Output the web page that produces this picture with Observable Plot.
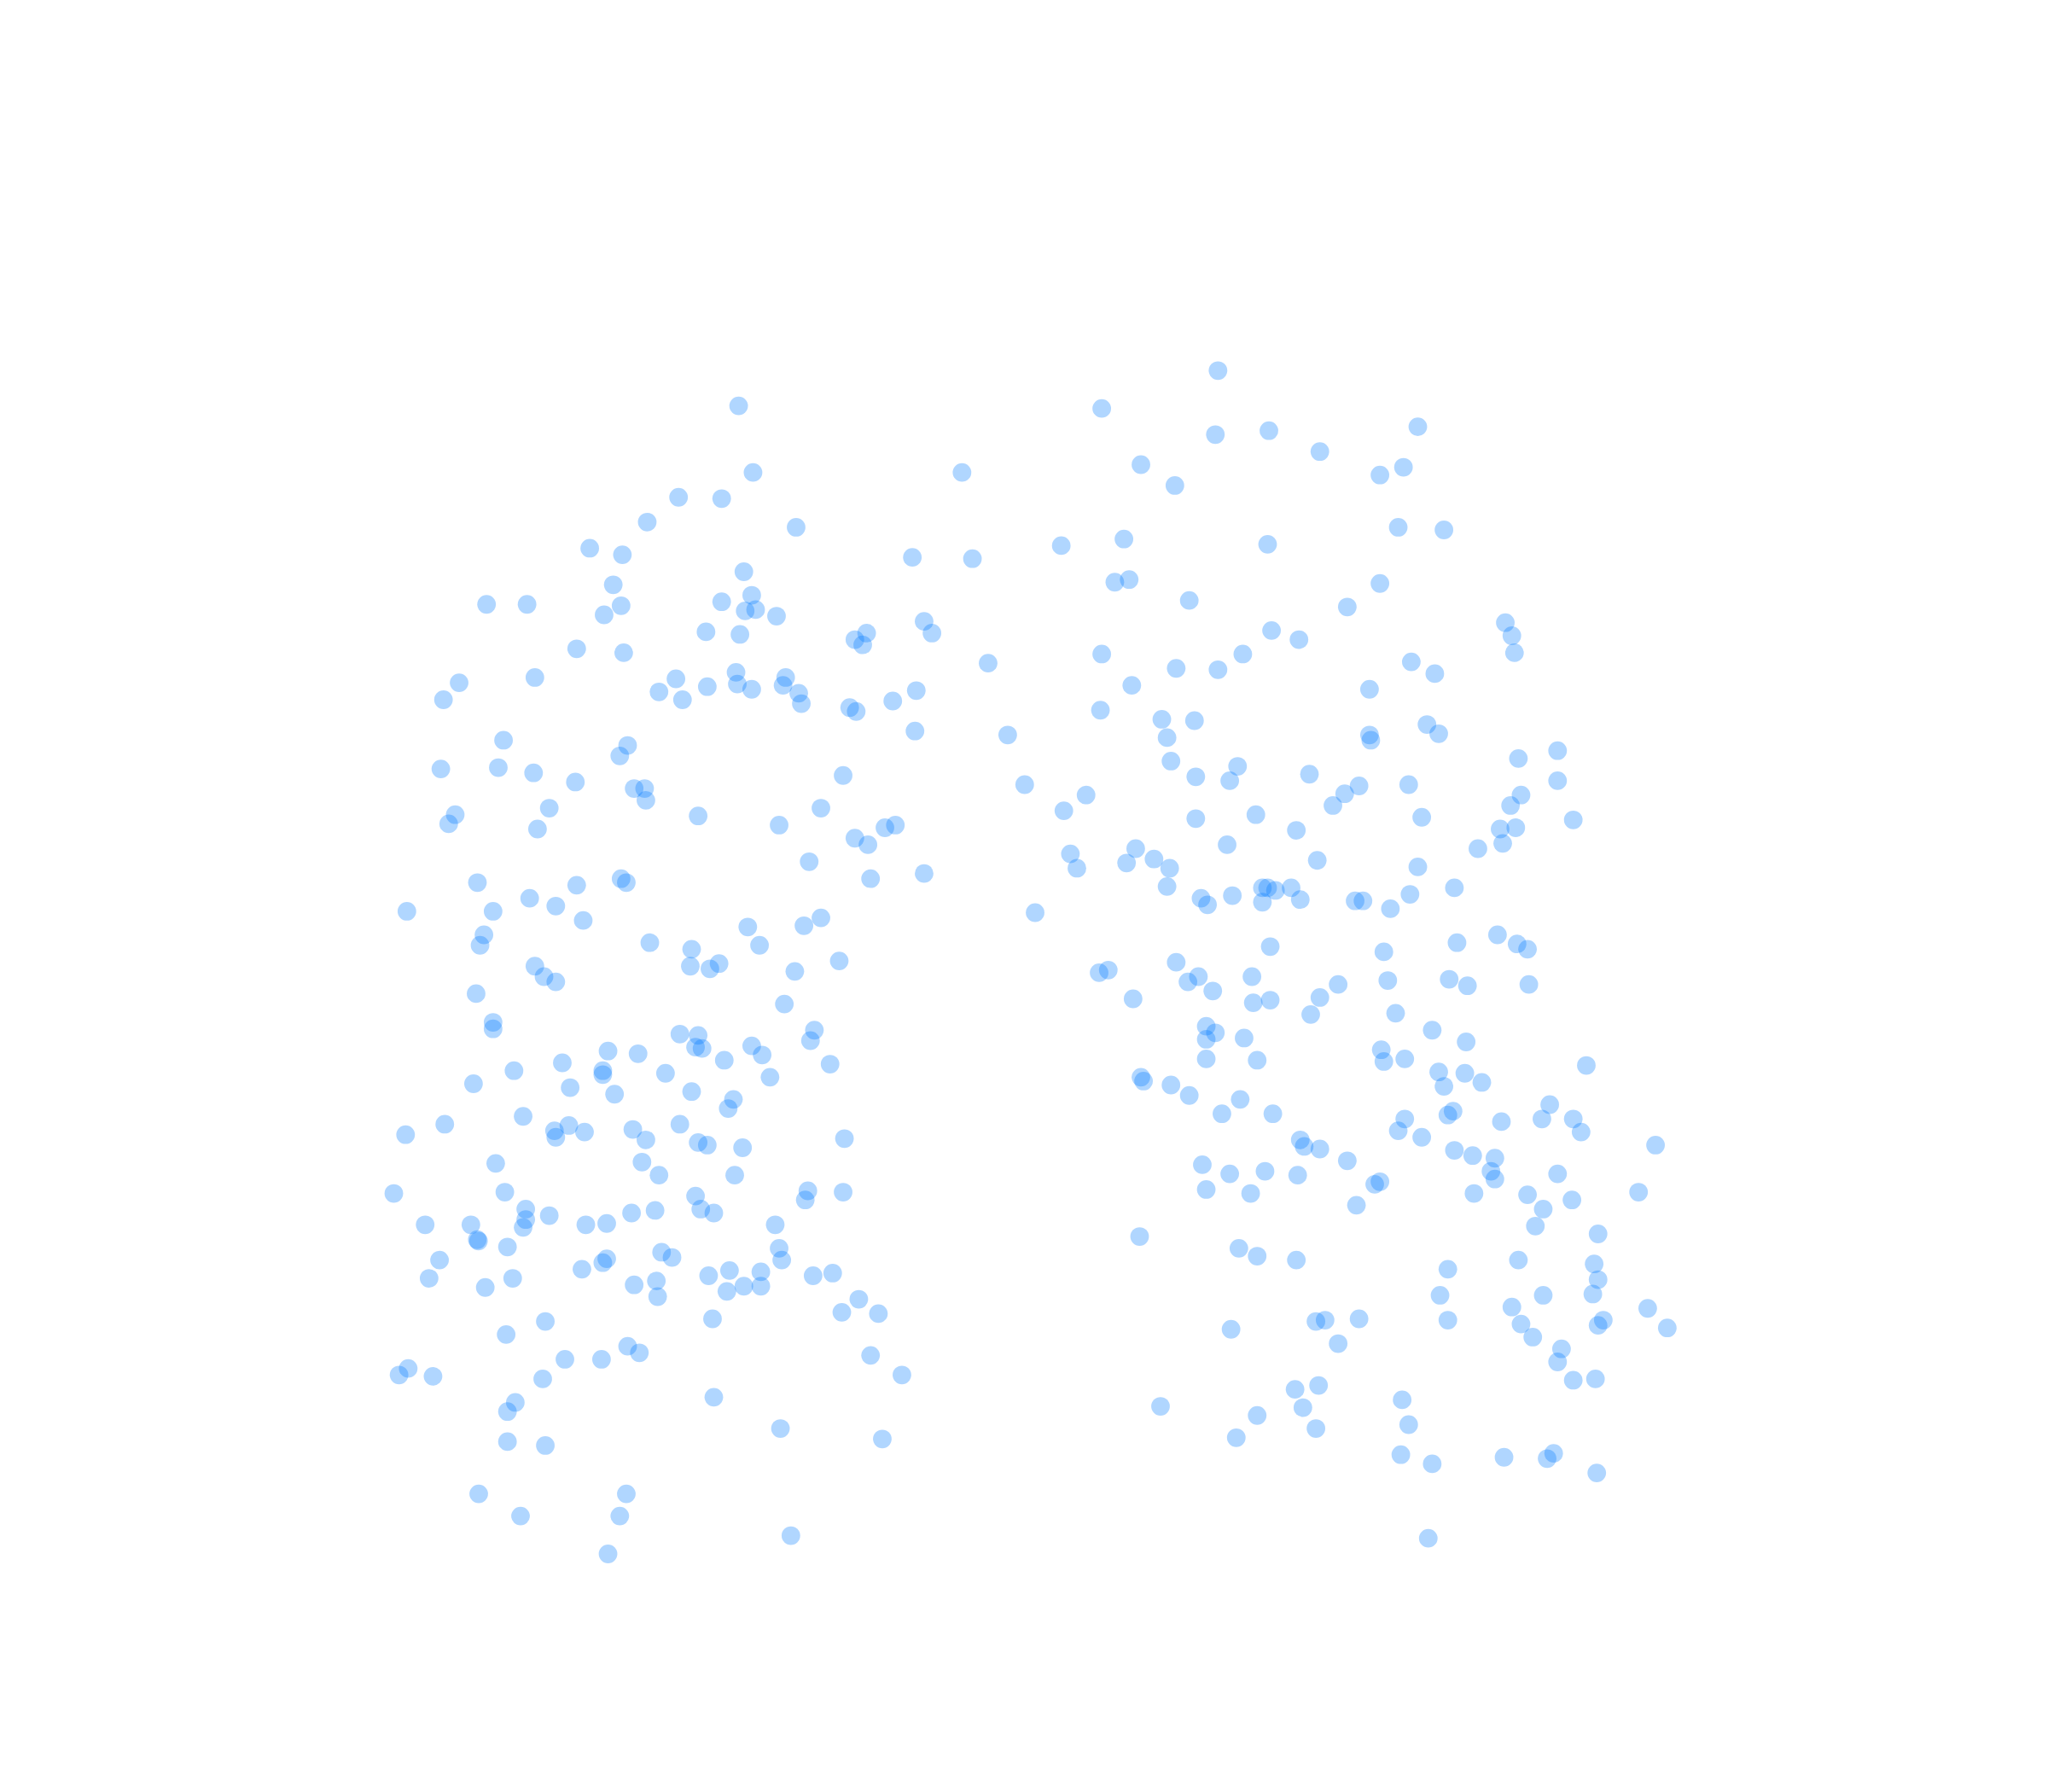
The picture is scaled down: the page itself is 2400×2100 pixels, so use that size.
<!DOCTYPE html>
<html>
<head>
<meta charset="utf-8">
<script src="https://cdn.jsdelivr.net/npm/d3@7"></script>
<script src="https://cdn.jsdelivr.net/npm/@observablehq/plot@0.6"></script>
<style>html,body{margin:0;padding:0;background:#fff}svg{display:block}</style>
</head>
<body>
<div id="chart"></div>
<script>
const band1 = [[565,311],[843,313],[932,284],[930,333],[971,330],[1010,346],[1085,327],[1074,358],[1056,364],[873,356],[899,372],[576,362],[736,362],[519,381],[552,382],[495,400],[609,404],[451,420],[476,425],[698,427],[744,428],[812,418],[860,413],[970,417],[1070,404],[1105,406],[569,438],[469,448],[853,446],[864,444],[1056,447],[552,461],[575,456],[570,468],[578,467],[594,472],[475,464],[462,471],[372,463],[403,463],[910,460],[1031,465],[1152,477],[1157,487],[1159,500],[540,484],[566,486],[441,497],[477,500],[654,490],[663,485],[660,494],[707,476],[713,485],[973,483],[994,490],[843,501],[951,501]];
const band2 = [[756,508],[900,512],[932,513],[1080,507],[1098,516],[409,519],[351,523],[339,536],[504,530],[517,520],[522,536],[541,526],[563,515],[564,524],[575,528],[599,525],[601,519],[611,531],[613,539],[650,542],[655,545],[683,537],[701,529],[700,560],[866,525],[842,544],[1048,528],[889,551],[914,552],[893,565],[771,563],[1048,563],[1049,567],[1092,555],[1101,562],[385,567],[480,571],[474,579],[337,589],[381,588],[408,592],[440,599],[485,604],[493,604],[494,613],[645,594],[896,583],[947,587],[915,595],[941,598],[1002,593],[1040,602],[1029,608],[1078,601],[1162,581],[1192,575],[1192,598],[784,601],[831,609],[814,621],[1020,617],[1164,609],[1156,617],[1204,628],[1088,626]];
const band3 = [[420,619],[348,624],[343,631],[411,635],[534,625],[596,632],[628,619],[677,634],[685,632],[654,642],[664,647],[915,627],[961,624],[992,636],[939,647],[1148,635],[1160,634],[1150,646],[1131,650],[819,654],[869,650],[862,661],[883,658],[895,665],[824,665],[1008,659],[1085,664],[619,660],[707,669],[666,673],[475,673],[479,676],[365,676],[441,678],[893,679],[966,680],[970,680],[976,682],[988,680],[1113,680],[1079,685],[919,688],[924,693],[943,686],[966,691],[995,689],[1037,690],[1043,690],[1064,696],[405,688],[425,694],[377,698],[311,698],[446,705],[792,699],[628,703],[615,709],[572,710]];
const band4 = [[370,716],[367,724],[497,722],[529,727],[581,724],[528,740],[543,742],[550,738],[642,736],[608,744],[972,725],[1059,729],[1115,722],[1146,716],[1161,723],[1169,727],[409,740],[416,748],[425,752],[364,761],[900,737],[841,745],[848,743],[909,752],[917,748],[928,759],[958,748],[1024,754],[1062,751],[1109,750],[1123,755],[1170,754],[867,765],[959,768],[972,766],[1010,764],[600,769],[377,783],[377,788],[1003,777],[1068,776],[520,792],[534,793],[532,802],[537,803],[575,801],[583,808],[620,797],[623,789],[923,786],[923,796],[930,791],[952,795],[1096,789],[1122,798]];
const band5 = [[465,805],[488,807],[430,814],[554,812],[635,815],[923,811],[962,812],[1057,804],[1059,813],[1075,811],[1214,816],[461,820],[461,823],[393,820],[509,822],[589,825],[362,830],[436,833],[470,838],[529,836],[561,842],[557,849],[873,825],[875,828],[896,831],[910,839],[949,842],[1101,821],[1121,822],[1105,832],[1134,829],[400,855],[935,853],[974,853],[1108,854],[1112,851],[1186,846],[1180,857],[1204,857],[1075,857],[1149,859],[310,869],[340,861],[424,866],[425,871],[435,862],[447,867],[484,865],[494,873],[520,861],[534,875],[541,877],[568,879],[646,872],[1070,866],[1088,871],[1210,867],[995,873],[998,878],[1010,880],[1113,881],[1127,885],[1144,887],[1267,877]];
const band6 = [[379,891],[491,890],[504,900],[562,900],[920,892],[941,899],[968,897],[993,900],[1031,889],[1141,897],[1144,903],[1192,899],[1052,907],[1056,905],[386,913],[301,914],[532,916],[618,912],[616,919],[645,913],[923,911],[957,914],[1128,914],[1169,915],[1203,919],[1254,913],[402,926],[420,931],[483,929],[501,927],[536,926],[546,929],[1038,923],[1181,926],[402,934],[400,940],[325,938],[360,938],[448,938],[464,937],[593,938],[1175,939],[364.9,949.4],[365.8,950.4],[388,955],[596,956],[872,947],[1223,945],[948,956],[962,962],[992,965],[506,959],[514,963],[464,964],[461,967],[598,965],[1162,965],[336,965],[1220,968]];
const band7 = [[445,972],[558,973],[582,974],[542,977],[622,977],[637,975],[1108,972],[328,979],[392,979],[502,981],[485,984],[569,985],[582,985],[371,986],[556,989],[503,993],[1223,980],[1219,991],[1102,992],[1181,992],[657,995],[644,1005],[672,1006],[1157,1001],[1261,1002],[417,1012],[545,1010],[1007,1012],[1014,1011],[1040,1010],[1108,1011],[1164,1014],[1227,1011],[1223,1015],[1276,1017],[942,1018],[387,1022],[1173,1024],[1024,1029],[480,1031],[489,1036],[432,1041],[460,1041],[666,1038],[1195,1033],[1192,1043]];
const band8 = [[305,1053],[312,1048],[331,1054],[415,1056],[690,1053],[1204,1057],[1221,1056],[1009,1061],[991,1064],[1073,1072],[546,1070],[394,1074],[388,1081],[888,1077],[997,1078],[962,1084],[597,1094],[1078,1091],[1007,1094],[388,1104],[417,1107],[675,1102],[946,1101],[1072,1114],[1096,1121],[1151,1116],[1184,1117],[1189,1113],[1222,1128],[366,1144],[479,1144],[398,1161],[474,1161],[605,1176],[465,1190],[1093,1178]];

const points = [band1, band2, band3, band4, band5, band6, band7, band8].flat();

const chart = Plot.plot({
  width: 2400,
  height: 2100,
  margin: 0,
  x: {axis: null, domain: [-0.2, 1567.8], range: [0, 2400]},
  y: {axis: null, domain: [0.6, 1372.6], range: [0, 2100]},
  marks: [
    Plot.dot(points, {
      x: d => d[0],
      y: d => d[1],
      r: 10.9,
      fill: "#007bff",
      fillOpacity: 0.31,
      stroke: "none"
    })
  ]
});
document.getElementById("chart").appendChild(chart);
</script>
</body>
</html>
